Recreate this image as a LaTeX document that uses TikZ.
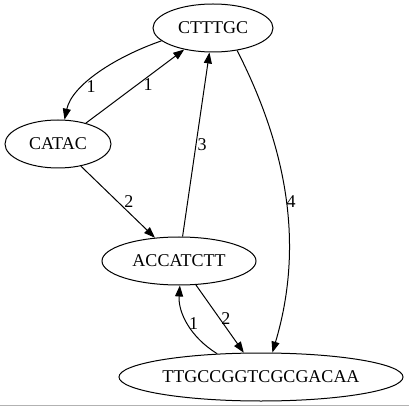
\documentclass[tikz,border=0pt]{standalone}
\usepackage{fontspec}
\setmainfont{Liberation Serif}
\usetikzlibrary{arrows.meta,shapes.geometric}
\begin{document}
\begin{tikzpicture}[x=1pt, y=1pt, >={Triangle[length=11pt,width=8pt]}, line width=1pt,
  font=\fontsize{18}{20}\selectfont,
  seq/.style={draw, ellipse, inner sep=0pt, minimum height=48pt},
  lbl/.style={inner sep=1pt}]
\useasboundingbox (0,0) rectangle (409,407);
\node[seq, minimum width=120pt] (C) at (213,379) {CTTTGC};
\node[seq, minimum width=106pt] (A) at (58,263) {CATAC};
\node[seq, minimum width=154pt] (B) at (179,146) {ACCATCTT};
\node[seq, minimum width=284pt] (T) at (261,30) {TTGCCGGTCGCGACAA};
\draw[->] (C.194) .. controls (115,350) and (72,322) .. node[right, inner sep=3pt, pos=0.66] {1} (A.75);
\draw[->] (A) -- node[right, inner sep=6pt, pos=0.52] {1} (C);
\draw[->] (A) -- node[right, inner sep=6pt] {2} (B);
\draw[->] (B) -- node[lbl, right] {3} (C);
\draw[->] (C.-43) .. controls (290,253) and (303,157) .. node[anchor=west, inner sep=0pt] {4} (T.65);
\draw[->] (T.152) .. controls (190,70) and (178,95) .. node[lbl, right] {1} (B.-88);
\draw[->] (B) -- node[lbl, right] {2} (T);
\draw[black!30] (0,1.5) -- (409,1.5);
\end{tikzpicture}
\end{document}
